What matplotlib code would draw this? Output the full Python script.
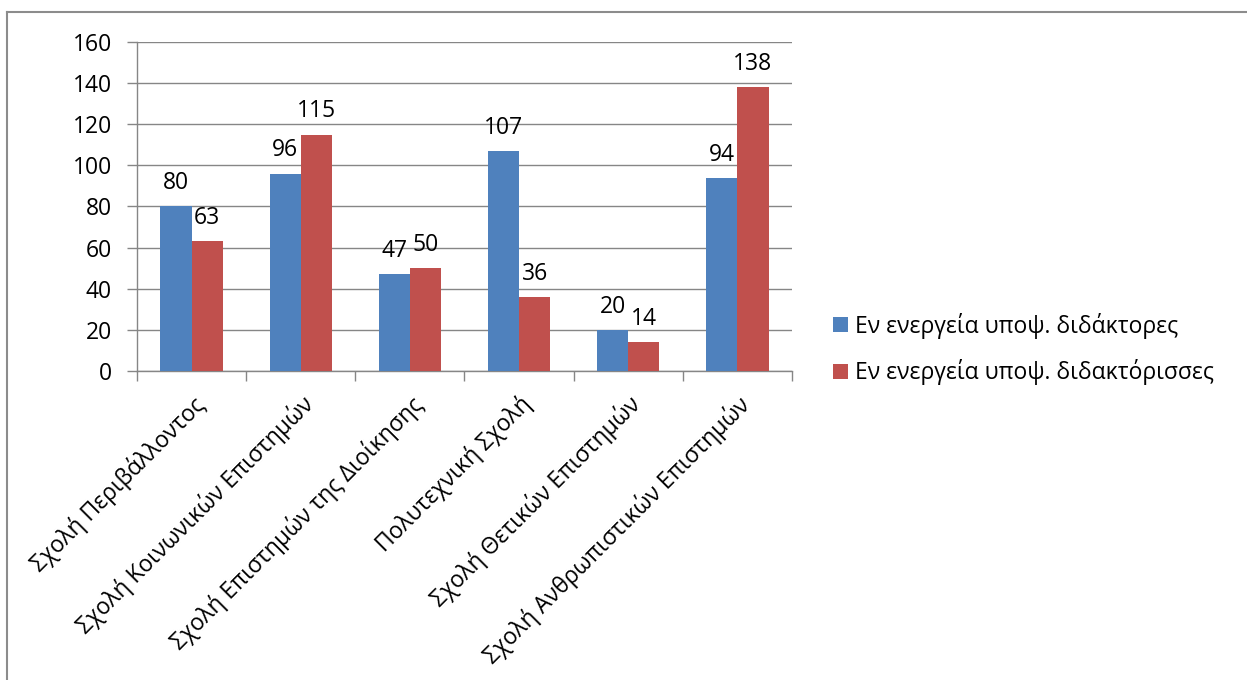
import numpy as np
import matplotlib
matplotlib.use("Agg")
import matplotlib.pyplot as plt
from matplotlib.lines import Line2D

plt.rcParams['font.family'] = ['Open Sans', 'Noto Sans', 'DejaVu Sans']

schools = [
    "Σχολή Περιβάλλοντος",
    "Σχολή Κοινωνικών Επιστημών",
    "Σχολή Επιστημών της Διοίκησης",
    "Πολυτεχνική Σχολή",
    "Σχολή Θετικών Επιστημών",
    "Σχολή Ανθρωπιστικών Επιστημών",
]
male = [80, 96, 47, 107, 20, 94]
female = [63, 115, 50, 36, 14, 138]
series_names = ["Εν ενεργεία υποψ. διδάκτορες", "Εν ενεργεία υποψ. διδακτόρισσες"]
yticks = [0, 20, 40, 60, 80, 100, 120, 140, 160]

fs = 16.5
fig = plt.figure(figsize=(12.47, 6.80), dpi=100)
ax = fig.add_axes([137 / 1247, 1 - 371 / 680, (792 - 137) / 1247, (371 - 42) / 680])

x = np.arange(len(schools))
w = 0.285
b1 = ax.bar(x - w / 2, male, w, color="#4F81BD", label=series_names[0], zorder=3)
b2 = ax.bar(x + w / 2, female, w, color="#C0504D", label=series_names[1], zorder=3)

for bars in (b1, b2):
    for rect in bars:
        ax.annotate(f"{int(rect.get_height())}",
                    (rect.get_x() + rect.get_width() / 2, rect.get_height()),
                    xytext=(0, 8), textcoords="offset points",
                    ha="center", va="bottom", fontsize=fs)

ax.set_xlim(-0.5, len(schools) - 0.5)
ax.set_ylim(0, 160)
ax.set_yticks(yticks)
ax.set_yticklabels([str(v) for v in yticks], fontsize=fs)
ax.yaxis.grid(True, color="#868686", linewidth=1, zorder=0)
ax.set_axisbelow(True)

ax.set_xticks(x)
ax.set_xticklabels(schools, rotation=45, ha="right", rotation_mode="anchor", fontsize=fs)
ax.tick_params(axis="x", length=0, pad=15)
ax.set_xticks(np.arange(-0.5, len(schools)), minor=True)
ax.tick_params(axis="x", which="minor", length=7, color="#868686", width=1)
ax.tick_params(axis="y", length=7, color="#868686", width=1, pad=11)

for s in ["top", "right"]:
    ax.spines[s].set_visible(False)
for s in ["left", "bottom"]:
    ax.spines[s].set_color("#868686")
    ax.spines[s].set_linewidth(1)

fig.legend(handles=[b1, b2], loc="center left", bbox_to_anchor=(833 / 1247, 1 - 349 / 680),
           frameon=False, fontsize=fs, handlelength=0.65, handleheight=0.65,
           handletextpad=0.3, labelspacing=0.9, borderpad=0, borderaxespad=0)

# outer border of chart area
fig.add_artist(Line2D([7 / 1247, 1], [1 - 11.5 / 680, 1 - 11.5 / 680],
                      transform=fig.transFigure, color="#8c8c8c", linewidth=1.5))
fig.add_artist(Line2D([7 / 1247, 7 / 1247], [0, 1 - 11.5 / 680],
                      transform=fig.transFigure, color="#8c8c8c", linewidth=1.5))

fig.savefig("out.png", dpi=100)
